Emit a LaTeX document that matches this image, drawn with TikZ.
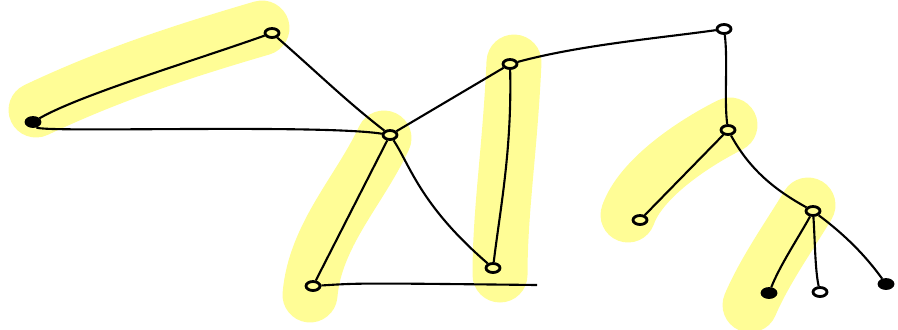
\documentclass[tikz,border=0pt]{standalone}
\usetikzlibrary{arrows,shapes.geometric}
\definecolor{marker}{RGB}{255,253,150}

\begin{document}
\begin{tikzpicture}[x=0.02cm,y=-0.02cm,
    vert/.style={draw,ellipse,line width=1.6pt,inner sep=0pt,minimum width=0.28cm,minimum height=0.18cm},
    blot/.style={vert,fill=black},
    link/.style={line width=1.2pt},
    glow/.style={marker,line width=1.1cm,line cap=round}]
    \useasboundingbox (0,0) rectangle (898,329);
    % highlighter strokes
    \draw[glow] (36,110) .. controls (110,75) and (180,52) .. (262,28);
    \draw[glow] (384,138) .. controls (360,190) and (315,235) .. (310,295);
    \draw[glow] (514,62) .. controls (510,150) and (500,210) .. (500,275);
    \draw[glow] (730,125) .. controls (690,145) and (640,180) .. (628,215);
    \draw[glow] (808,205) .. controls (790,235) and (765,270) .. (750,305);
    % vertices
    \node[blot] (A) at (33,122) {};
    \node[vert] (B) at (272,33) {};
    \node[vert] (C) at (390,135) {};
    \node[vert] (D) at (313,286) {};
    \node[vert] (E) at (493,268) {};
    \node[vert] (F) at (510,64) {};
    \node[vert] (G) at (724,29) {};
    \node[vert] (H) at (728,130) {};
    \node[vert] (I) at (640,220) {};
    \node[vert] (J) at (813,211) {};
    \node[blot] (K) at (769,293) {};
    \node[vert] (L) at (820,292) {};
    \node[blot] (M) at (886,284) {};
    \coordinate (Dend) at (537,285);
    % edges
    \draw[link] (A) .. controls (80,95) and (190,62) .. (B);
    \draw[link] (A) .. controls (40,133) and (320,124) .. (C);
    \draw[link] (B) .. controls (320,75) and (345,100) .. (C);
    \draw[link] (C) -- (D);
    \draw[link] (C) -- (F);
    \draw[link] (C) .. controls (410,165) and (420,205) .. (E);
    \draw[link] (D) .. controls (360,283) .. (Dend);
    \draw[link] (F) .. controls (512,150) and (500,210) .. (E);
    \draw[link] (F) .. controls (580,45) and (660,38) .. (G);
    \draw[link] (G) .. controls (728,60) and (724,100) .. (H);
    \draw[link] (H) -- (I);
    \draw[link] (H) .. controls (750,170) and (775,190) .. (J);
    \draw[link] (J) .. controls (800,235) and (780,265) .. (K);
    \draw[link] (J) .. controls (815,240) and (815,270) .. (L);
    \draw[link] (J) .. controls (845,235) and (865,255) .. (M);
\end{tikzpicture}
\end{document}
